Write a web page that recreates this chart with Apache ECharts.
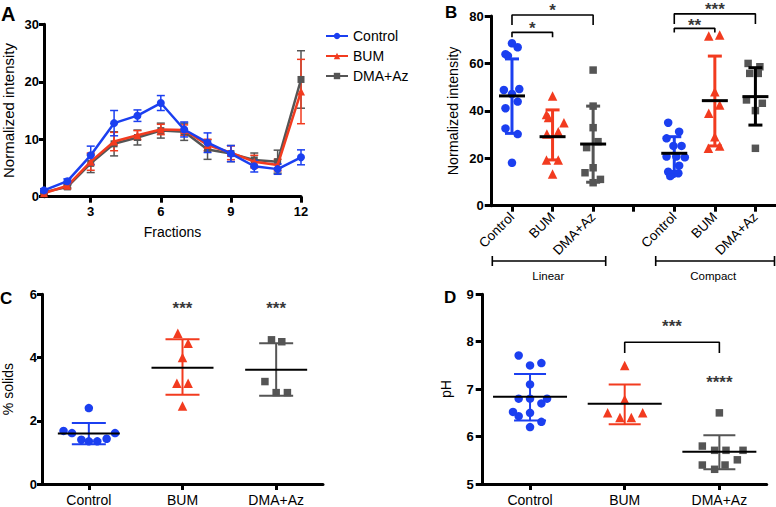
<!DOCTYPE html>
<html><head><meta charset="utf-8">
<script src="https://cdn.jsdelivr.net/npm/echarts@6/dist/echarts.min.js"></script>
<style>html,body{margin:0;padding:0;background:#fff}#c{width:776px;height:507px}</style>
</head><body><div id="c"></div>
<script>
// ---------- Panel A data ----------
const fractions = [1,2,3,4,5,6,7,8,9,10,11,12];
const aTicks = [3,6,9,12];
const aControl    = [1.1, 2.7, 7.2, 12.8, 14.1, 16.3, 11.7, 9.4, 7.5, 5.3, 4.8, 6.85];
const aControlErr = [0.3, 0.4, 1.6, 2.2, 1.0, 1.3, 1.3, 1.7, 1.4, 1.0, 0.9, 1.3];
const aBUM        = [0.6, 1.9, 6.1, 9.6, 10.7, 11.7, 11.6, 9.0, 7.65, 6.1, 5.5, 18.3];
const aBUMErr     = [0.2, 0.3, 1.5, 1.6, 0.8, 0.9, 0.9, 1.0, 1.2, 1.1, 1.0, 5.6];
const aDMA        = [0.8, 1.7, 5.8, 9.2, 10.3, 11.5, 11.3, 8.2, 7.5, 6.4, 6.1, 20.4];
const aDMAErr     = [0.2, 0.3, 1.6, 2.1, 1.3, 1.3, 1.5, 1.7, 1.4, 1.2, 2.0, 5.0];

// ---------- Panel B data ----------
const bCategories = ['Control','BUM','DMA+Az','','Control','BUM','DMA+Az'];
// [offset within category, value]
const bLinControl = [[0,68.5],[0.14,66.8],[-0.16,63.9],[-0.1,63.2],[-0.2,48.8],[0,47.1],[0.18,49.2],[-0.16,41.1],[0.14,43.9],[-0.16,32.6],[0.14,30.2],[0,18.1]];
const bLinBUM     = [[0,46.3],[-0.15,38.5],[-0.1,37.2],[0.28,35],[0.14,31.2],[-0.14,30.2],[-0.15,19.3],[0.14,19.3],[0,13.4]];
const bLinDMA     = [[0,57.2],[0,42],[0,32.9],[-0.16,24.5],[0.12,27],[0,16],[-0.2,13.9],[0,9.7],[0.18,11.1]];
const bCmpControl = [[-0.15,35],[0.12,31.2],[-0.19,28.4],[-0.02,25.2],[0.18,25.2],[0.26,20.4],[-0.19,20.7],[0.05,20.7],[0.12,16.9],[-0.15,14.3],[-0.02,13.4],[-0.1,12.5],[0.1,13.7]];
const bCmpBUM     = [[-0.15,71.6],[0.12,72],[0,48.1],[0.12,42.5],[-0.15,39],[0,29.1],[-0.16,24.2],[0.12,25.2]];
const bCmpDMA     = [[-0.18,60],[0.11,58.6],[-0.14,55.8],[0.07,55.8],[-0.22,44.6],[0.17,43.2],[0,40.1],[0,24.2]];
const bMean = [46.3, 29.1, 26, null, 22.1, 44.3, 46];
const bSdHi = [61.9, 40.4, 42, null, 29.1, 63.1, 58.2];
const bSdLo = [30.5, 19.3, 9.9, null, 14.3, 25.2, 34];
const bBrackets = [[0,1,73.1,71],[0,2,80.4,76.2],[4,5,74.8,73],[4,6,80.9,76.6]]; // [from,to,top,end]
const bStars = [[0.5,74.9,'*'],[1,82.5,'*'],[4.5,75.9,'**'],[5,82.9,'***']];

// ---------- Panel C data ----------
const cCategories = ['Control','BUM','DMA+Az'];
const cControl = [[0,2.4],[-0.27,1.68],[-0.18,1.61],[-0.08,1.4],[0,1.35],[0.09,1.35],[0.19,1.43],[0.28,1.61]];
const cBUM     = [[-0.05,4.77],[0.06,4.45],[0,4.0],[-0.06,3.19],[0.06,3.19],[0,2.47]];
const cDMA     = [[-0.05,4.56],[0.06,4.5],[-0.12,3.24],[0,2.89],[0.12,2.89]];
const cMean = [1.6, 3.68, 3.61];
const cSdHi = [1.93, 4.58, 4.45];
const cSdLo = [1.26, 2.82, 2.79];
const cStars = [[1,5.56,'***'],[2,5.56,'***']];

// ---------- Panel D data ----------
const dCategories = ['Control','BUM','DMA+Az'];
const dControl = [[-0.12,7.71],[0,7.5],[0.12,7.55],[0,7.1],[-0.12,6.8],[0,6.8],[0.12,6.7],[0.18,6.8],[-0.18,6.52],[-0.12,6.43],[0,6.5],[0.12,6.31],[0,6.2]];
const dBUM     = [[0,7.5],[0,6.78],[-0.18,6.5],[-0.05,6.4],[0.07,6.4],[0.19,6.5]];
const dDMA     = [[0,6.5],[-0.18,5.8],[-0.05,5.71],[0.07,5.71],[0.25,5.71],[0.19,5.51],[-0.18,5.4],[-0.05,5.31],[0.06,5.4]];
const dMean = [6.84, 6.69, 5.68];
const dSdHi = [7.32, 7.1, 6.03];
const dSdLo = [6.34, 6.26, 5.31];
const dBrackets = [[1,2,7.99,7.76]];
const dStars = [[1.5,8.33,'***'],[2,7.14,'****']];

// ---------- styles ----------
const BLUE = '#1b3ff0', RED = '#f23b1f', GRAY = '#555555', BLACK = '#000';
const FONT = "'Liberation Sans', Arial, Helvetica, sans-serif";
const AXW = 3;

function xAxisBase(grid, extra) {
  return Object.assign({
    gridIndex: grid, type: 'value',
    axisLine: {show: true, onZero: false, lineStyle: {color: BLACK, width: AXW}},
    splitLine: {show: false},
    nameTextStyle: {color: BLACK, fontSize: 14, fontFamily: FONT}
  }, extra);
}
function yAxisBase(grid, extra) {
  return Object.assign({
    gridIndex: grid, type: 'value',
    axisLine: {show: true, onZero: false, lineStyle: {color: BLACK, width: AXW}},
    axisTick: {show: true, length: 5, lineStyle: {color: BLACK, width: AXW}},
    splitLine: {show: false},
    nameLocation: 'middle', nameRotate: 90,
    nameTextStyle: {color: BLACK, fontSize: 14, fontFamily: FONT}
  }, extra);
}
function ticksAt(vals, len) {
  return {show: true, length: len, customValues: vals, lineStyle: {color: BLACK, width: AXW}};
}

function errBars(idx, xs, mean, err, color, z) {
  return {
    type: 'custom', xAxisIndex: idx, yAxisIndex: idx, silent: true, clip: false, z: z,
    data: xs.map((x, i) => [x, mean[i] - err[i], mean[i] + err[i]]),
    renderItem(params, api) {
      const lo = api.coord([api.value(0), api.value(1)]);
      const hi = api.coord([api.value(0), api.value(2)]);
      const w = 4, st = {stroke: color, lineWidth: 1.5};
      return {type: 'group', children: [
        {type: 'line', shape: {x1: lo[0], y1: lo[1], x2: hi[0], y2: hi[1]}, style: st},
        {type: 'line', shape: {x1: lo[0]-w, y1: lo[1], x2: lo[0]+w, y2: lo[1]}, style: st},
        {type: 'line', shape: {x1: hi[0]-w, y1: hi[1], x2: hi[0]+w, y2: hi[1]}, style: st}
      ]};
    }
  };
}

function meanSd(idx, x, mean, lo, hi, color, meanHalf, capHalf, lw) {
  return {
    type: 'custom', xAxisIndex: idx, yAxisIndex: idx, silent: true, clip: false, z: 5,
    data: [[x, mean, lo, hi]],
    renderItem(params, api) {
      const m = api.coord([api.value(0), api.value(1)]);
      const l = api.coord([api.value(0), api.value(2)]);
      const h = api.coord([api.value(0), api.value(3)]);
      const st = {stroke: color, lineWidth: lw};
      return {type: 'group', children: [
        {type: 'line', shape: {x1: l[0], y1: l[1], x2: h[0], y2: h[1]}, style: st},
        {type: 'line', shape: {x1: l[0]-capHalf, y1: l[1], x2: l[0]+capHalf, y2: l[1]}, style: st},
        {type: 'line', shape: {x1: h[0]-capHalf, y1: h[1], x2: h[0]+capHalf, y2: h[1]}, style: st},
        {type: 'line', shape: {x1: m[0]-meanHalf, y1: m[1], x2: m[0]+meanHalf, y2: m[1]}, style: {stroke: BLACK, lineWidth: lw}}
      ]};
    }
  };
}

function dots(idx, name, cat, pts, symbol, size, color) {
  return {
    type: 'scatter', name: name, xAxisIndex: idx, yAxisIndex: idx, z: 4, clip: false,
    symbol: symbol, symbolSize: size, itemStyle: {color: color, opacity: 1},
    data: pts.map(p => [cat + p[0], p[1]])
  };
}

function brackets(idx, list) {
  return list.map(b => ({
    type: 'line', xAxisIndex: idx, yAxisIndex: idx, silent: true, clip: false, symbol: 'none', z: 6,
    lineStyle: {color: BLACK, width: 1.6},
    data: [[b[0], b[3]], [b[0], b[2]], [b[1], b[2]], [b[1], b[3]]]
  }));
}

function stars(idx, list) {
  return {
    type: 'scatter', xAxisIndex: idx, yAxisIndex: idx, silent: true, clip: false, symbolSize: 1, z: 7,
    itemStyle: {color: 'rgba(0,0,0,0)'},
    data: list.map(s => ({value: [s[0], s[1]], name: s[2]})),
    label: {show: true, position: 'inside', formatter: p => p.name, color: BLACK, fontSize: 17, fontWeight: 'bold', fontFamily: FONT}
  };
}

const series = [];
// Panel A lines
const aLines = [
  ['DMA+Az', aDMA, aDMAErr, GRAY, 'rect', 7],
  ['BUM', aBUM, aBUMErr, RED, 'triangle', 8],
  ['Control', aControl, aControlErr, BLUE, 'circle', 8]
];
aLines.forEach((s, k) => {
  series.push(errBars(0, fractions, s[1], s[2], s[3], 2 + k));
  series.push({
    type: 'line', name: s[0], xAxisIndex: 0, yAxisIndex: 0, z: 3 + k,
    symbol: s[4], symbolSize: s[5], showSymbol: true,
    lineStyle: {color: s[3], width: 2.5}, itemStyle: {color: s[3]},
    data: fractions.map((f, i) => [f, s[1][i]])
  });
});

// Panel B
const bGroups = [bLinControl, bLinBUM, bLinDMA, null, bCmpControl, bCmpBUM, bCmpDMA];
const bSyms = [['circle',8.5,BLUE],['triangle',9.5,RED],['rect',7.5,GRAY],null,['circle',8.5,BLUE],['triangle',9.5,RED],['rect',7.5,GRAY]];
const bSdColors = [BLUE, RED, GRAY, null, BLUE, RED, BLACK];
bGroups.forEach((g, i) => {
  if (!g) return;
  series.push(dots(1, 'B ' + bCategories[i] + i, i, g, bSyms[i][0], bSyms[i][1], bSyms[i][2]));
  series.push(meanSd(1, i, bMean[i], bSdLo[i], bSdHi[i], bSdColors[i], 13, 7, 3));
});
brackets(1, bBrackets).forEach(s => series.push(s));
series.push(stars(1, bStars));

// Panel C
[[cControl,'circle',8.5,BLUE],[cBUM,'triangle',9.5,RED],[cDMA,'rect',7.5,GRAY]].forEach((g, i) => {
  series.push(dots(2, 'C ' + cCategories[i], i, g[0], g[1], g[2], g[3]));
  series.push(meanSd(2, i, cMean[i], cSdLo[i], cSdHi[i], g[3], 31, 17, 2));
});
series.push(stars(2, cStars));

// Panel D
[[dControl,'circle',8.5,BLUE],[dBUM,'triangle',9.5,RED],[dDMA,'rect',7.5,GRAY]].forEach((g, i) => {
  series.push(dots(3, 'D ' + dCategories[i], i, g[0], g[1], g[2], g[3]));
  series.push(meanSd(3, i, dMean[i], dSdLo[i], dSdHi[i], g[3], 37, 16, 2));
});
brackets(3, dBrackets).forEach(s => series.push(s));
series.push(stars(3, dStars));

const labelBold = {color: BLACK, fontWeight: 'bold', fontSize: 13, fontFamily: FONT};
const labelReg = {color: BLACK, fontWeight: 'normal', fontSize: 14, fontFamily: FONT};

const option = {
  animation: false,
  backgroundColor: '#fff',
  textStyle: {fontFamily: FONT},
  grid: [
    {left: 43, top: 24.3, width: 258, height: 172.4},
    {left: 491.7, top: 16, width: 284, height: 189.7},
    {left: 40, top: 294.3, width: 283, height: 190},
    {left: 482.7, top: 294.3, width: 284, height: 190.7}
  ],
  xAxis: [
    xAxisBase(0, {min: 1, max: 12, name: 'Fractions', nameLocation: 'middle', nameGap: 28,
      axisTick: ticksAt(aTicks, 6),
      axisLabel: Object.assign({customValues: aTicks, margin: 8}, labelBold)}),
    xAxisBase(1, {min: -0.5, max: 6.5,
      axisTick: ticksAt([0,1,2,3,4,5,6], 6),
      axisLabel: Object.assign({customValues: [0,1,2,3,4,5,6], margin: 9, rotate: 45,
        formatter: v => bCategories[Math.round(v)]}, labelReg, {fontSize: 13.5})}),
    xAxisBase(2, {min: -0.5, max: 2.5,
      axisTick: ticksAt([0,1,2], 6),
      axisLabel: Object.assign({customValues: [0,1,2], margin: 9, formatter: v => cCategories[Math.round(v)]}, labelReg)}),
    xAxisBase(3, {min: -0.5, max: 2.5,
      axisTick: ticksAt([0,1,2], 6),
      axisLabel: Object.assign({customValues: [0,1,2], margin: 9, formatter: v => dCategories[Math.round(v)]}, labelReg)})
  ],
  yAxis: [
    yAxisBase(0, {min: 0, max: 30, interval: 10, name: 'Normalized intensity', nameGap: 28,
      nameTextStyle: {color: BLACK, fontSize: 15, fontFamily: FONT},
      axisLabel: Object.assign({margin: 5}, labelBold)}),
    yAxisBase(1, {min: 0, max: 80, interval: 20, name: 'Normalized intensity', nameGap: 32,
      nameTextStyle: {color: BLACK, fontSize: 14.3, fontFamily: FONT},
      axisTick: {show: true, length: 7, lineStyle: {color: BLACK, width: AXW}},
      axisLabel: Object.assign({margin: 8}, labelBold)}),
    yAxisBase(2, {min: 0, max: 6, interval: 2, name: '% solids', nameGap: 27,
      axisLabel: Object.assign({margin: 5}, labelBold)}),
    yAxisBase(3, {min: 5, max: 9, interval: 1, name: 'pH', nameGap: 30,
      axisTick: {show: true, length: 7, lineStyle: {color: BLACK, width: AXW}},
      axisLabel: Object.assign({margin: 9}, labelBold)})
  ],
  legend: {
    data: ['Control', 'BUM', 'DMA+Az'], orient: 'vertical', left: 320, top: 24,
    itemWidth: 22, itemHeight: 8, itemGap: 6, selectedMode: false,
    textStyle: {color: BLACK, fontSize: 14, fontFamily: FONT}
  },
  graphic: [
    {type: 'text', left: 1, top: 4, style: {text: 'A', fontSize: 20, fontWeight: 'bold', fill: BLACK, fontFamily: FONT}},
    {type: 'text', left: 445, top: 4, style: {text: 'B', fontSize: 17, fontWeight: 'bold', fill: BLACK, fontFamily: FONT}},
    {type: 'text', left: 0, top: 290, style: {text: 'C', fontSize: 17, fontWeight: 'bold', fill: BLACK, fontFamily: FONT}},
    {type: 'text', left: 444, top: 289, style: {text: 'D', fontSize: 17, fontWeight: 'bold', fill: BLACK, fontFamily: FONT}},
    // group brackets under panel B
    {type: 'polyline', shape: {points: [[492.3,256],[492.3,266],[492.3,261],[605.7,261],[605.7,256],[605.7,266]]}, style: {stroke: BLACK, lineWidth: 1.6, fill: null}},
    {type: 'polyline', shape: {points: [[655.7,256],[655.7,266],[655.7,261],[774.5,261],[774.5,256],[774.5,266]]}, style: {stroke: BLACK, lineWidth: 1.6, fill: null}},
    {type: 'text', x: 548.3, y: 276, style: {text: 'Linear', fontSize: 11.5, fill: BLACK, fontFamily: FONT, align: 'center', verticalAlign: 'middle'}},
    {type: 'text', x: 713.3, y: 276, style: {text: 'Compact', fontSize: 11.5, fill: BLACK, fontFamily: FONT, align: 'center', verticalAlign: 'middle'}}
  ],
  series: series
};

const chart = echarts.init(document.getElementById('c'), null, {renderer: 'svg'});
chart.setOption(option);
</script>
</body></html>
